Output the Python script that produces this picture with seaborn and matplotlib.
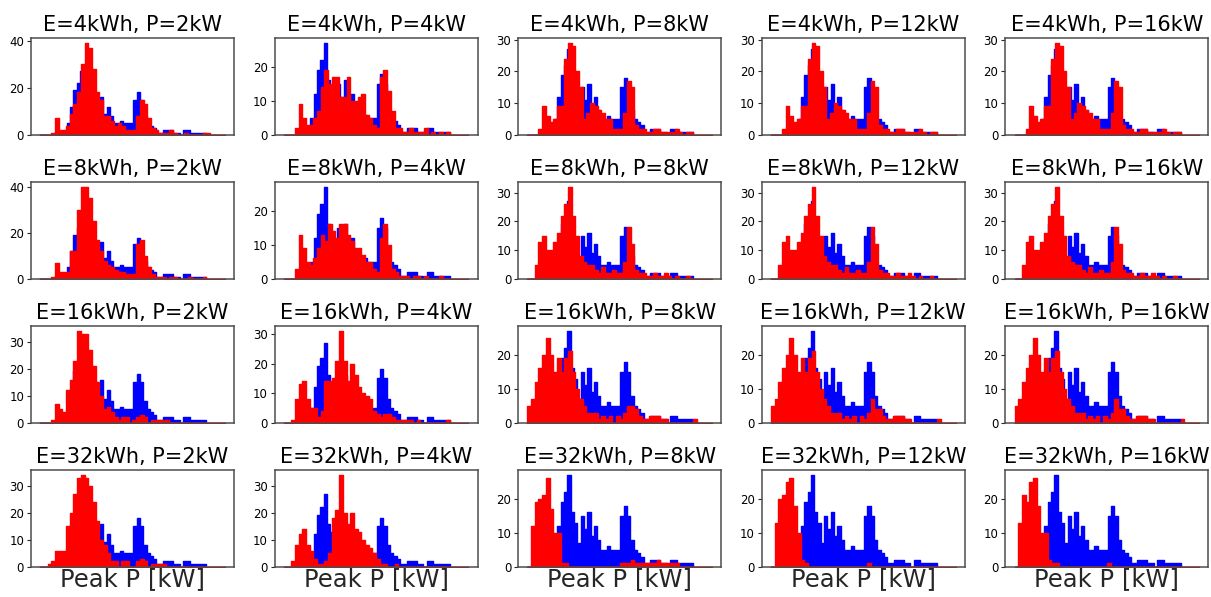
import numpy as np
import matplotlib
matplotlib.use("Agg")
import matplotlib.pyplot as plt
import seaborn as sns

energies = [4, 8, 16, 32]      # battery size, kWh
powers = [2, 4, 8, 12, 16]     # battery power, kW

# counts per bin (50 bins)
orig_counts = [0, 0, 0, 0, 0, 0, 0, 1, 5, 12, 19, 22, 27, 16, 13, 7, 15, 11, 16, 9,
               12, 8, 5, 5, 6, 5, 5, 5, 15, 18, 15, 8, 5, 4, 3, 1, 1, 2, 2, 2,
               1, 1, 0, 2, 2, 1, 1, 1, 1, 1]

shaved_e4_p2 = [0, 0, 0, 1, 7, 2, 2, 4, 9, 13, 18, 30, 39, 37, 28, 18, 15, 8, 8, 6,
                4, 5, 4, 2, 2, 2, 8, 15, 13, 7, 3, 2, 1, 1, 1, 2, 1, 0, 0, 1,
                0, 0, 0, 0, 1, 1, 0, 0, 0, 0]
shaved_e4_p4 = [0, 0, 0, 2, 9, 5, 3, 3, 5, 7, 14, 19, 15, 17, 17, 11, 11, 17, 10, 10,
                11, 12, 6, 5, 3, 2, 17, 19, 13, 7, 2, 2, 1, 1, 2, 1, 1, 1, 2, 0,
                1, 0, 1, 0, 1, 0, 0, 0, 0, 0]
shaved_e4_p8 = [0, 0, 0, 2, 9, 6, 4, 5, 9, 9, 24, 29, 28, 20, 15, 5, 7, 10, 9, 8,
                7, 5, 5, 2, 2, 2, 7, 17, 15, 3, 2, 2, 1, 1, 2, 2, 1, 1, 1, 1,
                2, 1, 0, 1, 1, 0, 0, 0, 0, 0]
shaved_e4_p12 = [0, 0, 0, 2, 9, 6, 4, 5, 9, 9, 24, 29, 28, 20, 15, 5, 7, 10, 9, 8,
                 7, 5, 5, 2, 2, 2, 7, 17, 15, 3, 2, 2, 1, 1, 2, 2, 1, 1, 1, 1,
                 2, 1, 0, 1, 1, 0, 0, 0, 0, 0]
shaved_e4_p16 = [0, 0, 0, 2, 9, 6, 4, 5, 9, 9, 24, 29, 28, 20, 15, 5, 7, 10, 9, 8,
                 7, 5, 5, 2, 2, 2, 7, 17, 15, 3, 2, 2, 1, 1, 2, 2, 1, 1, 1, 1,
                 2, 1, 0, 1, 1, 0, 0, 0, 0, 0]

shaved_e8_p2 = [0, 0, 0, 1, 7, 3, 3, 3, 12, 12, 30, 40, 40, 35, 25, 17, 12, 8, 6, 5,
                4, 3, 3, 2, 2, 2, 15, 17, 10, 5, 2, 1, 1, 1, 0, 1, 1, 0, 0, 0,
                1, 0, 0, 0, 1, 0, 0, 0, 0, 0]
shaved_e8_p4 = [0, 0, 0, 3, 13, 9, 5, 4, 6, 9, 13, 11, 16, 14, 12, 16, 16, 13, 11, 9,
                9, 7, 5, 5, 3, 2, 12, 16, 10, 3, 2, 1, 1, 1, 0, 1, 1, 0, 1, 0,
                0, 0, 1, 0, 0, 0, 0, 0, 0, 0]
shaved_e8_p8 = [0, 0, 5, 13, 15, 10, 10, 13, 16, 22, 26, 32, 22, 15, 8, 6, 5, 5, 3, 2,
                4, 2, 2, 3, 2, 2, 6, 18, 12, 3, 2, 2, 1, 1, 2, 1, 1, 2, 1, 0,
                1, 0, 0, 1, 0, 0, 0, 0, 0, 0]
shaved_e8_p12 = [0, 0, 5, 13, 15, 10, 10, 13, 16, 22, 26, 32, 22, 15, 8, 6, 5, 5, 3, 2,
                 4, 2, 2, 3, 2, 2, 6, 18, 12, 3, 2, 2, 1, 1, 2, 1, 1, 2, 1, 0,
                 1, 0, 0, 1, 0, 0, 0, 0, 0, 0]
shaved_e8_p16 = [0, 0, 5, 13, 15, 10, 10, 13, 16, 22, 26, 32, 22, 15, 8, 6, 5, 5, 3, 2,
                 4, 2, 2, 3, 2, 2, 6, 18, 12, 3, 2, 2, 1, 1, 2, 1, 1, 2, 1, 0,
                 1, 0, 0, 1, 0, 0, 0, 0, 0, 0]

shaved_e16_p2 = [0, 0, 0, 1, 7, 5, 4, 12, 16, 23, 34, 33, 33, 27, 21, 15, 10, 5, 6, 4,
                 2, 1, 2, 2, 0, 1, 2, 3, 2, 0, 1, 1, 1, 1, 1, 0, 0, 0, 0, 0,
                 0, 0, 0, 0, 0, 0, 0, 0, 0, 0]
shaved_e16_p4 = [0, 0, 1, 8, 13, 14, 8, 5, 5, 2, 4, 14, 14, 15, 21, 31, 21, 14, 20, 16,
                 12, 10, 9, 8, 4, 3, 2, 3, 3, 2, 1, 1, 1, 1, 1, 0, 1, 0, 0, 0,
                 0, 0, 0, 0, 1, 0, 0, 0, 0, 0]
shaved_e16_p8 = [5, 7, 12, 16, 20, 25, 20, 15, 19, 15, 19, 21, 15, 10, 7, 5, 3, 3, 3, 1,
                 2, 1, 2, 0, 2, 1, 3, 5, 5, 4, 2, 1, 1, 2, 2, 2, 1, 1, 0, 0,
                 0, 0, 0, 0, 0, 1, 0, 0, 0, 0]
shaved_e16_p12 = [5, 7, 12, 16, 20, 25, 20, 15, 19, 15, 19, 21, 15, 10, 7, 5, 3, 3, 3, 1,
                  2, 1, 2, 0, 2, 1, 3, 7, 4, 4, 2, 1, 1, 2, 2, 2, 1, 1, 0, 0,
                  0, 0, 0, 0, 0, 1, 0, 0, 0, 0]
shaved_e16_p16 = [5, 7, 12, 16, 20, 25, 20, 15, 19, 15, 19, 21, 15, 10, 7, 5, 3, 3, 3, 1,
                  2, 1, 2, 0, 2, 1, 3, 7, 4, 4, 2, 1, 1, 2, 2, 2, 1, 1, 0, 0,
                  0, 0, 0, 0, 0, 1, 0, 0, 0, 0]

shaved_e32_p2 = [0, 0, 1, 2, 6, 6, 6, 15, 20, 27, 33, 34, 33, 30, 24, 17, 10, 8, 5, 2,
                 2, 0, 2, 2, 0, 0, 2, 3, 2, 0, 1, 1, 1, 1, 0, 0, 0, 0, 0, 0,
                 0, 0, 0, 0, 0, 0, 0, 0, 0, 0]
shaved_e32_p4 = [0, 0, 2, 8, 12, 14, 8, 6, 3, 1, 1, 2, 5, 18, 21, 34, 20, 16, 20, 14,
                 13, 10, 8, 7, 5, 3, 1, 1, 0, 0, 1, 0, 0, 0, 0, 0, 0, 0, 0, 0,
                 0, 0, 0, 0, 0, 0, 0, 0, 0, 0]
shaved_e32_p8 = [0, 12, 19, 20, 21, 26, 17, 10, 10, 1, 1, 0, 0, 0, 0, 0, 0, 0, 0, 0,
                 0, 0, 0, 0, 0, 1, 1, 1, 2, 1, 1, 1, 1, 1, 1, 2, 1, 1, 1, 1,
                 1, 0, 0, 0, 0, 0, 0, 0, 0, 0]
shaved_e32_p12 = [0, 13, 20, 21, 25, 26, 18, 10, 2, 1, 0, 0, 0, 0, 0, 0, 0, 0, 0, 0,
                  0, 0, 0, 0, 0, 0, 1, 0, 0, 0, 0, 0, 0, 0, 0, 0, 0, 0, 0, 0,
                  0, 0, 0, 0, 0, 0, 0, 0, 0, 0]
shaved_e32_p16 = [0, 13, 21, 19, 25, 26, 18, 10, 10, 2, 1, 1, 0, 0, 0, 0, 0, 0, 0, 0,
                  0, 0, 0, 0, 0, 1, 0, 0, 0, 0, 0, 0, 0, 0, 0, 0, 0, 0, 0, 0,
                  0, 0, 0, 0, 0, 0, 0, 0, 0, 0]

shaved = {
    (4, 2): shaved_e4_p2, (4, 4): shaved_e4_p4, (4, 8): shaved_e4_p8,
    (4, 12): shaved_e4_p12, (4, 16): shaved_e4_p16,
    (8, 2): shaved_e8_p2, (8, 4): shaved_e8_p4, (8, 8): shaved_e8_p8,
    (8, 12): shaved_e8_p12, (8, 16): shaved_e8_p16,
    (16, 2): shaved_e16_p2, (16, 4): shaved_e16_p4, (16, 8): shaved_e16_p8,
    (16, 12): shaved_e16_p12, (16, 16): shaved_e16_p16,
    (32, 2): shaved_e32_p2, (32, 4): shaved_e32_p4, (32, 8): shaved_e32_p8,
    (32, 12): shaved_e32_p12, (32, 16): shaved_e32_p16,
}

n_bins = 50
orig_range = (0.0, 9.0)
shaved_range = (0.0, 10.0)


def bin_centers(rng):
    edges = np.linspace(rng[0], rng[1], n_bins + 1)
    return (edges[:-1] + edges[1:]) / 2


sns.set_style("ticks")
plt.rcParams["font.family"] = ["DejaVu Sans"]

fig, axs = plt.subplots(4, 5, figsize=(12.11, 5.97), dpi=100)
fig.subplots_adjust(left=0.0256, right=0.9978, top=0.9358, bottom=0.0505,
                    wspace=0.2, hspace=0.49)

for i, e in enumerate(energies):
    for j, p in enumerate(powers):
        ax = axs[i, j]
        sns.histplot(x=bin_centers(orig_range), weights=orig_counts, bins=n_bins,
                     binrange=orig_range, element="step", fill=True, color="blue",
                     alpha=1, linewidth=1.0, ax=ax)
        sns.histplot(x=bin_centers(shaved_range), weights=shaved[(e, p)], bins=n_bins,
                     binrange=shaved_range, element="step", fill=True, color="red",
                     alpha=1, linewidth=1.0, ax=ax)
        ax.set_xlim(-0.5, 10.5)
        ax.set_ylim(bottom=0)
        ax.set_xticks([])
        ax.set_ylabel("")
        ax.set_xlabel("Peak P [kW]" if i == 3 else "", fontsize=17.5, labelpad=0)
        ax.set_title(f"E={e}kWh, P={p}kW", fontsize=15, pad=5, color="black")
        ax.tick_params(axis="y", labelsize=8.5, length=3, pad=2, labelcolor="black")
        for s in ax.spines.values():
            s.set_color(".3")
            s.set_linewidth(1.1)

fig.savefig("out.png", dpi=100)
